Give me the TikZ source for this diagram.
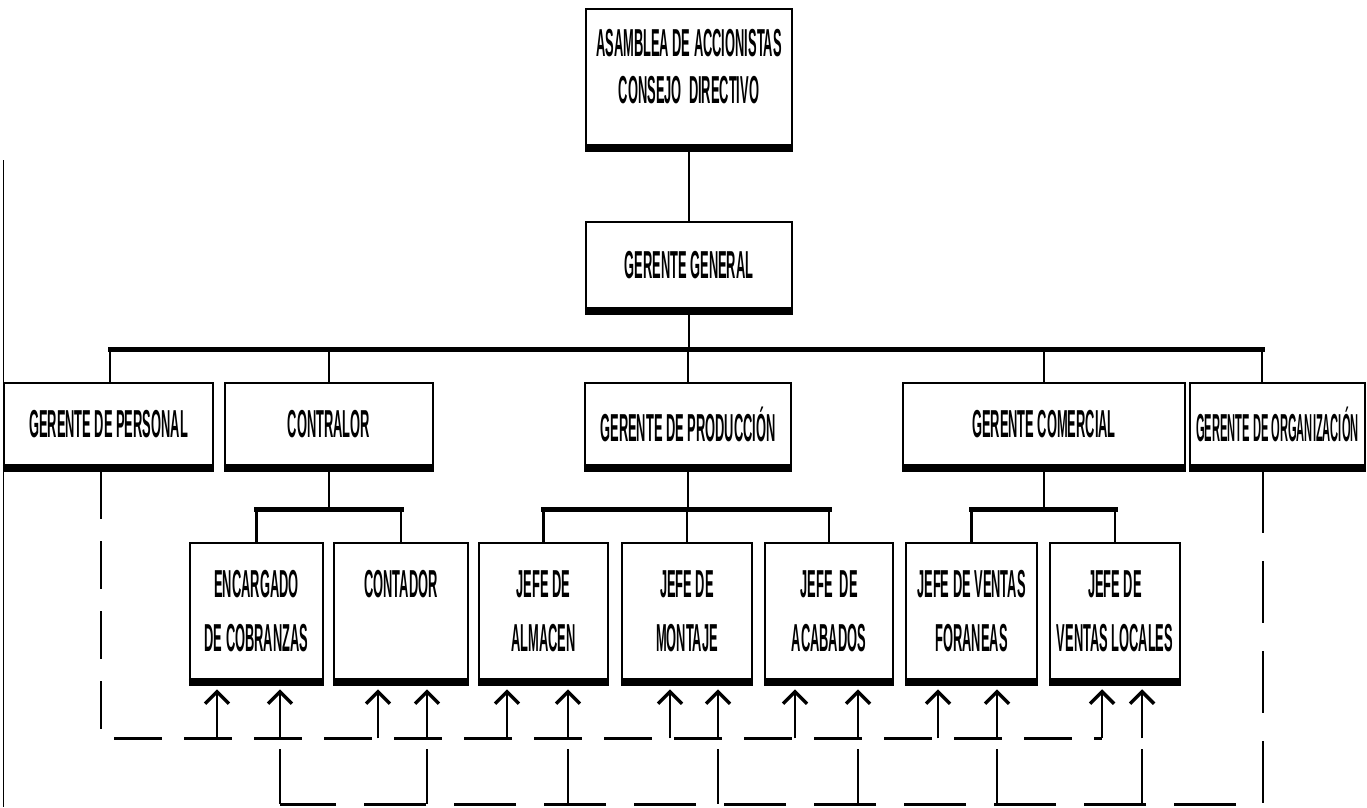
\documentclass[tikz,border=0pt]{standalone}
\usepackage{fontspec}
\usetikzlibrary{arrows.meta}
\newfontfamily\boxfont{Liberation Sans}
\newcommand\sq[1]{\scalebox{0.33}[1]{#1}}
\newcommand\sqq[1]{\scalebox{0.285}[1]{#1}}
\begin{document}
\begin{tikzpicture}[x=1pt,y=-1pt,
  box/.style={draw, line width=2.5pt, inner sep=0pt, align=center, minimum height=82pt,
    font=\boxfont\bfseries\fontsize{39}{54}\selectfont},
  tallbox/.style={box, minimum height=136pt},
  conn/.style={line width=2.5pt},
  busline/.style={line width=5pt, line cap=rect},
  shadowbar/.style={line width=7pt},
  dashline/.style={line width=2.5pt, dash pattern=on 48pt off 22pt},
  dashlow/.style={line width=2.5pt, dash pattern=on 62pt off 28pt},
  arr/.style={line width=2.5pt, -{Straight Barb[length=12pt,width=24pt,line width=3.5pt]}}
]
\useasboundingbox (0,0) rectangle (1367,807);

% page edge line
\coordinate (edgeT) at (3,160);
\coordinate (edgeB) at (3,807);
\draw[line width=1pt] (edgeT) -- (edgeB);

% level 1 and 2
\node[tallbox, minimum width=206pt, font=\boxfont\bfseries\fontsize{39}{47}\selectfont] (asm) at (689,77) {\sq{ASAMBLEA DE ACCIONISTAS}\\\sq{CONSEJO\ \ DIRECTIVO}\\[-25pt]\mbox{}};
\node[box, minimum width=206pt, minimum height=86pt] (gg) at (689,265) {\sq{GERENTE GENERAL}};

% level 3
\node[box, minimum width=209pt] (per) at (108.5,424) {\sq{GERENTE DE PERSONAL}};
\node[box, minimum width=208pt] (con) at (329,424) {\sq{CONTRALOR}};
\node[box, minimum width=206pt] (pro) at (688,424) {\sq{GERENTE DE PRODUCCIÓN}};
\node[box, minimum width=282pt] (com) at (1044,424) {\sq{GERENTE COMERCIAL}};
\node[box, minimum width=175pt] (org) at (1277.5,424) {\sqq{GERENTE DE ORGANIZACIÓN}};

% level 4
\node[tallbox, minimum width=133pt] (enc) at (256.5,611) {\sq{ENCARGADO}\\\sq{DE COBRANZAS}};
\node[tallbox, minimum width=134pt] (cnt) at (401,611) {\sq{CONTADOR}\\\mbox{}};
\node[tallbox, minimum width=129pt] (alm) at (543.5,611) {\sq{JEFE DE}\\\sq{ALMACEN}};
\node[tallbox, minimum width=130pt] (mon) at (687,611) {\sq{JEFE DE}\\\sq{MONTAJE}};
\node[tallbox, minimum width=128pt] (aca) at (829,611) {\sq{JEFE\ \ DE}\\\sq{ACABADOS}};
\node[tallbox, minimum width=131pt] (fora) at (971.5,611) {\sq{JEFE DE VENTAS}\\\sq{FORANEAS}};
\node[tallbox, minimum width=130pt] (loca) at (1115,611) {\sq{JEFE DE}\\\sq{VENTAS LOCALES}};

% thick bottom edges
\foreach \n in {asm,gg,per,con,pro,com,org,enc,cnt,alm,mon,aca,fora,loca}
  \draw[shadowbar] ([yshift=-2pt]\n.south west) -- ([yshift=-2pt]\n.south east);

% main connectors
\draw[conn] (asm.south) -- (gg.north);
\path (gg.south) ++(0,41) coordinate (b1);
\coordinate (bL) at (110,349);
\coordinate (bR) at (1262,349);
\draw[conn] (gg.south) -- (b1);
\draw[busline] (bL) -- (bR);
\draw[conn] (bL) -- ([xshift=1.5pt]per.north);
\draw[conn] (con.north |- b1) -- (con.north);
\draw[conn] (pro.north |- b1) -- (pro.north);
\draw[conn] (com.north |- b1) -- (com.north);
\draw[conn] (bR) -- ([xshift=-15.5pt]org.north);

% sub-buses
\path (con.south) ++(0,43) coordinate (s1);
\draw[conn] (con.south) -- (s1);
\draw[busline] (enc.north |- s1) -- (cnt.north |- s1);
\draw[conn] (enc.north |- s1) -- (enc.north);
\draw[conn] (cnt.north |- s1) -- (cnt.north);

\path (pro.south) ++(0,43) coordinate (s2);
\draw[conn] (pro.south) -- (s2);
\draw[busline] (alm.north |- s2) -- (aca.north |- s2);
\draw[conn] (alm.north |- s2) -- (alm.north);
\draw[conn] (mon.north |- s2) -- (mon.north);
\draw[conn] (aca.north |- s2) -- (aca.north);

\path (com.south) ++(0,43) coordinate (s3);
\draw[conn] (com.south) -- (s3);
\draw[busline] (fora.north |- s3) -- (loca.north |- s3);
\draw[conn] (fora.north |- s3) -- (fora.north);
\draw[conn] (loca.north |- s3) -- (loca.north);

% dashed staff lines
\draw[dashline] ([xshift=-7.5pt,yshift=-5pt]per.south) |- ([xshift=-13pt,yshift=-58pt]loca.south);
\draw[dashlow] ([xshift=-14.5pt,yshift=-5pt]org.south) |- ([xshift=23.5pt,yshift=-124pt]enc.south);

% arrows into level-4 boxes
\foreach \n/\da/\db in {enc/-39.5/23.5, cnt/-23/26, alm/-36.5/24.5, mon/-17/31, aca/-34/29, fora/-33.5/25.5, loca/-13/27} {
  \draw[arr] ([xshift=\da pt,yshift=-58pt]\n.south) -- ([xshift=\da pt,yshift=-9pt]\n.south);
  \draw[arr] ([xshift=\db pt,yshift=-58pt]\n.south) -- ([xshift=\db pt,yshift=-9pt]\n.south);
  \draw[conn] ([xshift=\db pt,yshift=-69pt]\n.south) -- ([xshift=\db pt,yshift=-124pt]\n.south);
}
\end{tikzpicture}
\end{document}
